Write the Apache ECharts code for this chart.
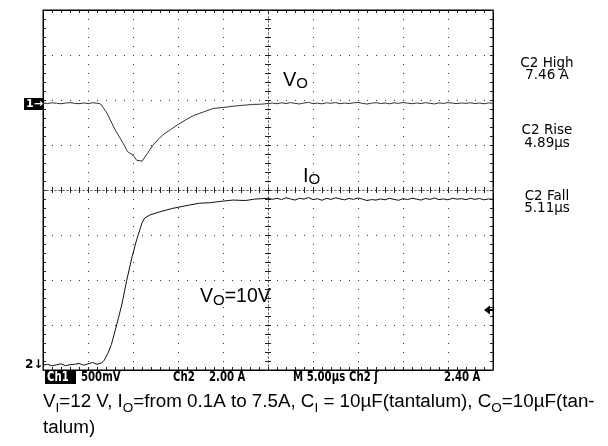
<!DOCTYPE html>
<html><head><meta charset="utf-8">
<script src="https://cdn.jsdelivr.net/npm/echarts@6/dist/echarts.min.js"></script>
<style>html,body{margin:0;padding:0;background:#fff}#c{width:608px;height:446px}</style>
</head><body><div id="c"></div>
<script>
// time in microseconds (M 5.00us / div, 10 divisions)
const voTime = [0,0.5,1,1.5,2,2.5,3,3.5,4,4.5,5,5.5,6,
  6.4,7.1,8.0,8.9,9.4,10.0,10.4,11.0,11.6,12.2,12.8,13.3,14.1,14.9,15.8,16.7,17.8,18.9,20.0,21.1,22.2,23.3,24.2,25.0,
  25.5,26,26.5,27,27.5,28,28.5,29,29.5,30,30.5,31,31.5,32,32.5,33,33.5,34,34.5,35,35.5,36,36.5,37,37.5,38,38.5,39,39.5,40,40.5,41,41.5,42,42.5,43,43.5,44,44.5,45,45.5,46,46.5,47,47.5,48,48.5,49,49.5,50];
// VO deviation in mV (Ch1 500 mV/div)
const voValues = [5,0,8,3,-3,5,10,2,-2,6,0,8,4,
  -5,-105,-290,-440,-535,-575,-630,-640,-555,-465,-400,-350,-295,-240,-185,-135,-95,-55,-45,-30,-20,-10,-8,0,
  5,-3,8,0,10,2,-5,6,12,0,4,-4,8,3,10,-2,5,0,7,12,2,-6,4,9,0,6,-3,8,2,11,4,-2,6,0,9,3,-5,7,1,10,4,-1,6,2,8,0,5,-3,7,2];
const ioTime = [0,0.5,1,1.5,2,2.5,3,3.5,4,4.5,5,5.5,6,6.5,
  6.8,7.2,7.6,8.0,8.4,8.8,9.3,9.9,10.4,11.0,11.3,11.9,13.0,14.4,16.3,17.4,18.5,19.5,21.1,22.5,23.5,25.0,
  25.5,26,26.5,27,27.5,28,28.5,29,29.5,30,30.5,31,31.5,32,32.5,33,33.5,34,34.5,35,35.5,36,36.5,37,37.5,38,38.5,39,39.5,40,40.5,41,41.5,42,42.5,43,43.5,44,44.5,45,45.5,46,46.5,47,47.5,48,48.5,49,49.5,50];
// IO in A (Ch2 2.00 A/div)
const ioValues = [0.08,0.12,0.05,0.1,0.14,0.06,0.1,0.12,0.16,0.08,0.14,0.2,0.12,0.18,
  0.3,0.6,1.0,1.6,2.2,2.85,3.85,4.9,5.65,6.4,6.62,6.76,6.9,7.05,7.2,7.28,7.3,7.35,7.42,7.4,7.46,7.5,
  7.45,7.5,7.44,7.52,7.47,7.42,7.5,7.46,7.53,7.44,7.48,7.41,7.5,7.45,7.52,7.47,7.43,7.49,7.45,7.51,7.46,7.4,7.44,7.42,7.47,7.43,7.5,7.45,7.41,7.48,7.44,7.5,7.46,7.42,7.49,7.45,7.51,7.44,7.47,7.43,7.5,7.46,7.48,7.44,7.5,7.45,7.49,7.43,7.47,7.45];
const measureLabels = ['C2 High\n7.46 A', 'C2 Rise\n4.89µs', 'C2 Fall\n5.11µs'];
const scopeLabels = ['500mV', 'Ch2', '2.00 A', 'M 5.00µs', 'Ch2 ʃ', '2.40 A'];

const chart = echarts.init(document.getElementById('c'));
const dotted = {color: '#333', width: 1, type: [1, 8]};
function xAx(pos, offset, inside, dash) {
  return {type: 'value', min: 0, max: 50, interval: 5, position: pos, offset: offset,
    axisLine: {show: true, onZero: false, lineStyle: dash ? {color: '#555', width: 1, type: [1, 3]} : {color: '#000', width: 1}},
    axisTick: {show: true, inside: inside, length: 3, lineStyle: {color: '#222'}},
    minorTick: {show: true, splitNumber: 5, length: 3, lineStyle: {color: '#222'}},
    axisLabel: {show: false}, splitLine: {show: false}};
}
function yAx(pos, offset, inside, dash) {
  return {type: 'value', min: 0, max: 8, interval: 1, position: pos, offset: offset,
    axisLine: {show: true, onZero: false, lineStyle: dash ? {color: '#555', width: 1, type: [1, 3]} : {color: '#000', width: 1}},
    axisTick: {show: true, inside: inside, length: 3, lineStyle: {color: '#222'}},
    minorTick: {show: true, splitNumber: 5, length: 3, lineStyle: {color: '#222'}},
    axisLabel: {show: false}, splitLine: {show: false}};
}
const xMain = xAx('bottom', 0, true, false);
xMain.splitLine = {show: true, lineStyle: dotted};
const yMain = yAx('left', 0, true, false);
yMain.splitLine = {show: true, lineStyle: dotted};

const txt = (x, y, text, extra) => ({type: 'text', x: x, y: y, style: Object.assign({text: text, fill: '#000', font: '13.5px "DejaVu Sans"', verticalAlign: 'middle', textAlign: 'left'}, extra || {})});

const scopeX = [81, 173, 209, 293, 349, 444];
const graphics = [];
// channel markers
graphics.push({type: 'rect', shape: {x: 24, y: 98, width: 19, height: 12}, style: {fill: '#000'}});
graphics.push(txt(26, 104.5, '1→', {fill: '#fff', font: 'bold 11px "DejaVu Sans"'}));
graphics.push(txt(25, 364.5, '2↓', {font: 'bold 12px "DejaVu Sans"'}));
// trigger arrow
graphics.push({type: 'polygon', shape: {points: [[484, 310], [490, 305.5], [490, 314.5]]}, style: {fill: '#000'}});
graphics.push({type: 'rect', shape: {x: 489, y: 309, width: 4, height: 2}, style: {fill: '#000'}});
// bottom scope readout
graphics.push({type: 'rect', shape: {x: 45, y: 371, width: 31, height: 13}, style: {fill: '#000'}});
const sc = (x, s, fill) => Object.assign(txt(0, 0, s, {fill: fill || '#000', font: 'bold 14.5px "DejaVu Sans"'}), {x: x, y: 377.5, scaleX: 0.7});
graphics.push(sc(47, 'Ch1', '#fff'));
scopeLabels.forEach((s, i) => graphics.push(sc(scopeX[i], s)));
// measurements
const measY = [63, 130.5, 196];
measureLabels.forEach((s, i) => graphics.push({type: 'text', x: 547, y: measY[i] - 6, style: {text: s, fill: '#000', font: '13.5px "DejaVu Sans"', textAlign: 'center', verticalAlign: 'top', lineHeight: 12.5}}));
// trace labels
const lab = (x, top, text, big, small) => ({type: 'text', x: x, y: top, style: {text: text, fill: '#000', rich: {
  a: {fontFamily: 'Liberation Sans', fontSize: big, lineHeight: 22, fill: '#000'},
  b: {fontFamily: 'Liberation Sans', fontSize: small, lineHeight: 12, verticalAlign: 'bottom', fill: '#000'}}}});
graphics.push(lab(283, 69, '{a|V}{b|O}', 20, 15));
graphics.push(lab(303, 165, '{a|I}{b|O}', 20, 15));
graphics.push(lab(200, 286, '{a|V}{b|O}{a|=10V}', 19.5, 15));
// caption
graphics.push({type: 'text', x: 43, y: 389, style: {
  text: '{m|V}{s|I}{m|=12 V, I}{s|O}{m|=from 0.1A to 7.5A, C}{s|I}{m| = 10µF(tantalum), C}{s|O}{m|=10µF(tan-}\n{m|talum)}',
  rich: {m: {fontFamily: 'Liberation Sans', fontSize: 18.8, lineHeight: 26, fill: '#000'},
         s: {fontFamily: 'Liberation Sans', fontSize: 13.5, lineHeight: 12, verticalAlign: 'bottom', fill: '#000'}}}});

chart.setOption({
  animation: false,
  backgroundColor: '#fff',
  grid: {left: 43, top: 10, width: 450, height: 360, show: true, borderColor: '#000', borderWidth: 1, backgroundColor: '#fff'},
  xAxis: [xMain, xAx('top', 0, true, false), xAx('bottom', -180, true, true), xAx('bottom', -180, false, true)],
  yAxis: [yMain, yAx('right', 0, true, false), yAx('left', -225, true, true), yAx('left', -225, false, true),
    {type: 'value', min: -2961, max: 1039, show: false},
    {type: 'value', min: -0.1333, max: 15.8667, show: false}],
  series: [
    {name: 'VO', type: 'line', xAxisIndex: 0, yAxisIndex: 4, showSymbol: false, symbol: 'none',
     data: voTime.map((t, i) => [t, voValues[i]]), lineStyle: {color: '#333', width: 1}},
    {name: 'IO', type: 'line', xAxisIndex: 0, yAxisIndex: 5, showSymbol: false, symbol: 'none',
     data: ioTime.map((t, i) => [t, ioValues[i]]), lineStyle: {color: '#111', width: 1}}
  ],
  graphic: graphics
});
</script></body></html>
